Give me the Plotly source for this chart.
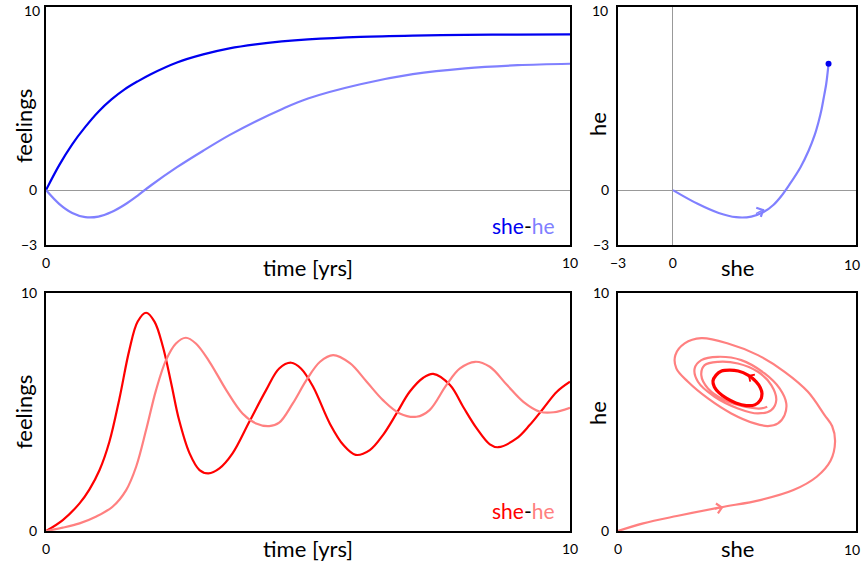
import plotly.graph_objects as go

# ---------------- data ----------------
# top row: she (blue) / he (light blue)
t_top = [0, 0.25, 0.5, 0.75, 1, 1.25, 1.5, 1.75, 2, 2.5, 3, 3.5, 4, 4.5, 5, 6, 7, 8, 9, 10]
she_top = [0, 1.35, 2.5, 3.45, 4.28, 4.95, 5.5, 5.94, 6.33, 6.97, 7.41, 7.74, 7.96, 8.12, 8.23, 8.37,
           8.44, 8.475, 8.493, 8.5]
he_top = [0, -0.75, -1.25, -1.48, -1.45, -1.2, -0.8, -0.3, 0.25, 1.25, 2.15, 3.0, 3.75, 4.42, 5.0,
          5.78, 6.33, 6.65, 6.82, 6.9]

# bottom row: she (red) / he (pink)
t_she_bot = [0, 0.32, 0.64, 0.83, 1.02, 1.21, 1.40, 1.59, 1.75, 1.91, 2.07, 2.23, 2.39, 2.54, 2.74,
             2.93, 3.10, 3.31, 3.56, 3.88, 4.20, 4.45, 4.68, 4.87, 5.1, 5.42, 5.68, 5.91, 6.18,
             6.43, 6.69, 6.94, 7.2, 7.39, 7.71, 7.96, 8.22, 8.47, 8.63, 8.98, 9.23, 9.49, 9.75, 10]
she_bot = [0, 0.46, 1.16, 1.75, 2.55, 3.75, 5.55, 7.6, 8.8, 9.17, 8.80, 7.75, 6.20, 4.66, 3.26,
           2.56, 2.42, 2.63, 3.26, 4.59, 5.92, 6.83, 7.07, 6.82, 6.05, 4.5, 3.6, 3.2, 3.40,
           4.03, 4.94, 5.85, 6.44, 6.6, 6.13, 5.22, 4.31, 3.64, 3.52, 3.89, 4.45, 5.15, 5.85, 6.27]
t_he_bot = [0, 0.32, 0.64, 0.95, 1.27, 1.53, 1.72, 1.91, 2.10, 2.29, 2.48, 2.67, 2.86, 3.12, 3.44,
            3.75, 4.01, 4.26, 4.45, 4.71, 4.97, 5.23, 5.48, 5.80, 6.12, 6.43, 6.75, 7.07, 7.32,
            7.64, 7.9, 8.19, 8.47, 8.8, 9.11, 9.43, 9.69, 10]
he_bot = [0, 0.14, 0.32, 0.60, 1.02, 1.72, 2.70, 4.24, 5.92, 7.18, 7.88, 8.12, 7.88, 7.11, 5.92,
          4.94, 4.52, 4.41, 4.55, 5.36, 6.34, 7.11, 7.39, 7.05, 6.27, 5.50, 4.94, 4.80, 5.08,
          6.13, 6.83, 7.11, 6.90, 6.13, 5.43, 5.01, 4.99, 5.18]

# bottom-right phase portrait: transient spiral (pink) and limit cycle (red)
spiral_she = [0, 1.06, 2.47, 4.29, 5.97, 7.37, 8.35, 8.93, 9.12, 9.0, 8.68, 7.98, 7.00, 5.88, 4.62,
              3.50, 2.80, 2.41, 2.45, 2.94, 3.78, 4.76, 5.74, 6.30, 6.72, 7.00, 7.07, 6.79, 6.16,
              5.18, 4.20, 3.50, 3.22, 3.36, 4.06, 5.04, 5.88, 6.44, 6.65, 6.44, 5.88, 5.04, 4.20,
              3.64, 3.50, 3.78, 4.48, 5.32, 6.02, 6.27]
spiral_he = [0, 0.32, 0.63, 0.99, 1.30, 1.72, 2.28, 2.95, 3.75, 4.4, 4.87, 5.85, 6.69, 7.39, 7.88,
             8.10, 7.88, 7.39, 6.83, 6.27, 5.57, 4.94, 4.52, 4.41, 4.52, 4.87, 5.36, 5.99, 6.62,
             7.18, 7.32, 7.18, 6.83, 6.27, 5.64, 5.15, 4.94, 5.08, 5.50, 6.13, 6.69, 7.04, 7.11,
             6.97, 6.55, 5.99, 5.50, 5.22, 5.15, 5.22]
cycle_she = [5.39, 5.75, 5.98, 6.05, 5.98, 5.80, 5.46, 5.05, 4.69, 4.35, 4.12, 3.99, 4.05, 4.25,
             4.55, 4.95, 5.39]
cycle_he = [5.27, 5.30, 5.50, 5.78, 6.02, 6.28, 6.55, 6.72, 6.76, 6.72, 6.55, 6.30, 6.05, 5.80,
            5.58, 5.38, 5.27]

# tick labels (the "10" labels that sit on the figure's outer edge are drawn as annotations)
x_ticks_time = [0, 10]
x_ticktext_time = ["0", "10"]
y_ticks_top = [-3, 0]
y_ticktext_top = ["\u22123", "0"]
x_ticks_phase_top = [-3, 0]
x_ticktext_phase_top = ["\u22123", "0"]
ticks_bot = [0, 10]
ticktext_bot = ["0", "10"]
x_ticks_phase_bot = [0]
x_ticktext_phase_bot = ["0"]
edge_label = "10"

# ---------------- styles ----------------
BLUE = "#0000f0"
LBLUE = "#8080ff"
RED = "#ff0000"
PINK = "#ff8080"
FONT = "Lato"
W, H = 862, 570

fig = go.Figure()
fig.add_trace(go.Scatter(x=t_top, y=she_top, mode="lines", line=dict(color=BLUE, width=2.2, shape="spline"),
                         xaxis="x", yaxis="y"))
fig.add_trace(go.Scatter(x=t_top, y=he_top, mode="lines", line=dict(color=LBLUE, width=2.2, shape="spline"),
                         xaxis="x", yaxis="y"))
fig.add_trace(go.Scatter(x=she_top, y=he_top, mode="lines", line=dict(color=LBLUE, width=2.2, shape="spline"),
                         xaxis="x2", yaxis="y2"))
fig.add_trace(go.Scatter(x=she_top[-1:], y=he_top[-1:], mode="markers", marker=dict(color=BLUE, size=6),
                         xaxis="x2", yaxis="y2"))
fig.add_trace(go.Scatter(x=t_she_bot, y=she_bot, mode="lines", line=dict(color=RED, width=2.2, shape="spline"),
                         xaxis="x3", yaxis="y3"))
fig.add_trace(go.Scatter(x=t_he_bot, y=he_bot, mode="lines", line=dict(color=PINK, width=2.2, shape="spline"),
                         xaxis="x3", yaxis="y3"))
fig.add_trace(go.Scatter(x=spiral_she, y=spiral_he, mode="lines", line=dict(color=PINK, width=2.2, shape="spline"),
                         xaxis="x4", yaxis="y4"))
fig.add_trace(go.Scatter(x=cycle_she, y=cycle_he, mode="lines", line=dict(color=RED, width=3.2, shape="spline"),
                         xaxis="x4", yaxis="y4"))


def px_x(a, b):
    return [a / W, b / W]


def px_y(top, bottom):
    return [(H - bottom) / H, (H - top) / H]


axis_common = dict(showline=True, linecolor="black", linewidth=2, mirror=True, showgrid=False,
                   ticks="", tickfont=dict(family=FONT, size=14, color="black"), automargin=False,
                   fixedrange=True, ticklabeloverflow="allow")

fig.update_layout(
    width=W, height=H, margin=dict(l=0, r=0, t=0, b=0),
    paper_bgcolor="white", plot_bgcolor="white", showlegend=False,
    font=dict(family=FONT, color="black"),
    xaxis=dict(domain=px_x(46, 570), range=[0, 10], tickvals=x_ticks_time, ticktext=x_ticktext_time,
               zeroline=False, anchor="y", ticklabelstandoff=4, **axis_common),
    yaxis=dict(domain=px_y(7, 245), range=[-3, 10], tickvals=y_ticks_top, ticktext=y_ticktext_top,
               zeroline=True, zerolinecolor="#999999", zerolinewidth=1, anchor="x",
               ticklabelstandoff=4, **axis_common),
    xaxis2=dict(domain=px_x(618, 856), range=[-3, 10], tickvals=x_ticks_phase_top,
                ticktext=x_ticktext_phase_top, zeroline=True, zerolinecolor="#999999", zerolinewidth=1,
                anchor="y2", ticklabelstandoff=4, **axis_common),
    yaxis2=dict(domain=px_y(7, 245), range=[-3, 10], tickvals=y_ticks_top, ticktext=y_ticktext_top,
                zeroline=True, zerolinecolor="#999999", zerolinewidth=1, anchor="x2",
                ticklabelstandoff=4, **axis_common),
    xaxis3=dict(domain=px_x(46, 570), range=[0, 10], tickvals=x_ticks_time, ticktext=x_ticktext_time,
                zeroline=False, anchor="y3", ticklabelstandoff=4, **axis_common),
    yaxis3=dict(domain=px_y(293, 531), range=[0, 10], tickvals=ticks_bot, ticktext=ticktext_bot,
                zeroline=False, anchor="x3", ticklabelstandoff=4, **axis_common),
    xaxis4=dict(domain=px_x(618, 856), range=[0, 10], tickvals=x_ticks_phase_bot,
                ticktext=x_ticktext_phase_bot, zeroline=False, anchor="y4", ticklabelstandoff=4,
                **axis_common),
    yaxis4=dict(domain=px_y(293, 531), range=[0, 10], tickvals=ticks_bot, ticktext=ticktext_bot,
                zeroline=False, anchor="x4", ticklabelstandoff=4, **axis_common),
)


def label(text, xp, yp, size=22, angle=0, xanchor="center", yanchor="middle"):
    fig.add_annotation(text=text, x=xp / W, y=(H - yp) / H, xref="paper", yref="paper",
                       showarrow=False, textangle=angle, font=dict(family=FONT, size=size, color="black"),
                       xanchor=xanchor, yanchor=yanchor)


label("time [yrs]", 308, 267)
label("feelings", 23, 126, angle=-90)
label("she", 737, 267)
label("he", 597, 124, angle=-90)
label("time [yrs]", 308, 548)
label("feelings", 23, 412, angle=-90)
label("she", 737, 548)
label("he", 597, 413, angle=-90)

# "10" tick labels at the outer edges of the figure
label(edge_label, 42, 0, size=14, xanchor="right", yanchor="top")
label(edge_label, 610, 0, size=14, xanchor="right", yanchor="top")
label(edge_label, 862, 264, size=14, xanchor="right")
label(edge_label, 862, 549, size=14, xanchor="right")

label(f"<span style='color:{BLUE}'>she</span>-<span style='color:{LBLUE}'>he</span>", 557, 225,
      size=21, xanchor="right")
label(f"<span style='color:{RED}'>she</span>-<span style='color:{PINK}'>he</span>", 557, 510,
      size=21, xanchor="right")

# direction arrows on the phase curves
fig.add_annotation(x=5.0, y=-1.05, xref="x2", yref="y2", ax=-10, ay=5, showarrow=True,
                   arrowhead=4, arrowsize=1.3, arrowwidth=1.5, arrowcolor=LBLUE, text="")
fig.add_annotation(x=4.43, y=1.0, xref="x4", yref="y4", ax=-10, ay=2, showarrow=True,
                   arrowhead=4, arrowsize=1.3, arrowwidth=1.5, arrowcolor=PINK, text="")
fig.add_annotation(x=5.46, y=6.55, xref="x4", yref="y4", ax=9, ay=6, showarrow=True,
                   arrowhead=4, arrowsize=0.9, arrowwidth=1.8, arrowcolor=RED, text="")

fig.write_html("out.html")
